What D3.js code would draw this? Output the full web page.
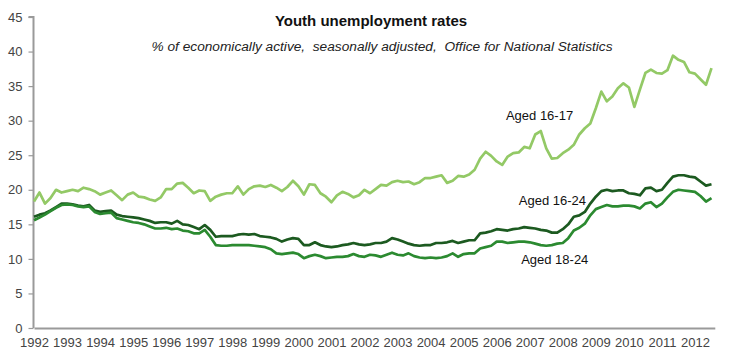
<!DOCTYPE html>
<html><head><meta charset="utf-8">
<script src="https://cdn.jsdelivr.net/npm/d3@7"></script>
<style>
html,body{margin:0;padding:0;background:#fff;}
svg{display:block;font-family:"Liberation Sans",Arial,sans-serif;}
</style></head>
<body>
<svg id="chart" width="729" height="360"></svg>
<script>
// Data: bi-monthly readings starting Jan 1992
const startYear = 1992;
const monthsPerStep = 2;
const yearTicks = d3.range(1992, 2013);
const yTicks = [0,5,10,15,20,25,30,35,40,45];

const aged1617 = [18.3,19.6,18.0,18.8,20.0,19.6,19.8,20.0,19.8,20.3,20.1,19.8,19.3,19.6,19.9,19.2,18.5,19.3,19.6,19.0,
18.9,18.6,18.4,18.9,20.1,20.1,20.9,21.0,20.3,19.5,19.9,19.8,18.4,19.0,19.3,19.5,19.5,20.5,19.3,20.1,
20.5,20.6,20.4,20.7,20.3,19.8,20.4,21.3,20.5,19.3,20.8,20.7,19.5,19.0,18.2,19.2,19.7,19.4,18.9,19.2,
20.0,19.5,20.1,20.7,20.6,21.1,21.3,21.1,21.2,20.8,21.1,21.7,21.7,21.9,22.1,21.0,21.3,22.0,21.9,22.2,
22.9,24.5,25.5,24.9,24.1,23.6,24.8,25.3,25.4,26.2,26.0,28.0,28.5,26.0,24.5,24.6,25.3,25.8,26.5,28.0,
28.9,29.6,31.8,34.2,32.8,33.5,34.7,35.4,34.8,32.0,34.5,36.9,37.4,36.9,36.8,37.3,39.4,38.8,38.5,37.0,
36.8,36.0,35.2,37.6];

const aged1624 = [16.1,16.4,16.6,17.0,17.5,18.0,18.0,17.9,17.7,17.6,17.8,17.0,16.8,16.9,17.0,16.4,16.2,16.1,16.0,15.9,
15.7,15.5,15.2,15.3,15.3,15.1,15.5,15.0,14.9,14.6,14.3,14.9,14.2,13.2,13.3,13.3,13.3,13.5,13.6,13.5,
13.6,13.3,13.2,13.1,12.9,12.5,12.8,13.0,12.9,12.0,12.0,12.4,12.0,11.8,11.7,11.8,12.0,12.1,12.3,12.1,
12.0,12.1,12.3,12.3,12.5,13.0,12.8,12.5,12.2,12.0,11.9,12.0,12.0,12.3,12.3,12.4,12.6,12.3,12.5,12.7,
12.7,13.7,13.8,14.0,14.3,14.2,14.1,14.3,14.4,14.6,14.5,14.4,14.2,14.1,13.8,13.8,14.3,15.0,16.1,16.3,
16.8,18.0,19.0,19.8,20.0,19.8,19.9,19.9,19.5,19.4,19.2,20.2,20.3,19.8,20.0,21.0,21.9,22.1,22.1,21.9,
21.8,21.2,20.6,20.8];

const aged1824 = [15.6,16.0,16.4,16.9,17.4,17.8,17.9,17.8,17.6,17.5,17.6,16.8,16.5,16.6,16.7,15.9,15.7,15.5,15.3,15.2,
15.0,14.7,14.4,14.4,14.5,14.3,14.4,14.1,14.0,13.7,13.7,14.2,13.2,12.0,11.9,11.9,12.0,12.0,12.0,12.0,
11.9,11.8,11.7,11.4,10.8,10.7,10.8,10.9,10.7,10.1,10.4,10.6,10.4,10.1,10.2,10.3,10.3,10.4,10.7,10.4,
10.3,10.6,10.5,10.3,10.6,10.9,10.6,10.5,10.8,10.4,10.2,10.1,10.2,10.1,10.2,10.4,10.8,10.3,10.7,10.8,
10.8,11.5,11.7,11.9,12.5,12.5,12.3,12.4,12.5,12.5,12.4,12.2,12.0,11.9,12.0,12.2,12.3,13.0,14.1,14.5,
15.1,16.3,17.2,17.5,17.8,17.6,17.6,17.7,17.7,17.6,17.3,18.0,18.2,17.5,18.0,18.9,19.7,20.0,19.9,19.8,
19.7,19.1,18.3,18.8];

const seriesNames = ["Aged 16-17","Aged 16-24","Aged 18-24"];
const seriesValues = [aged1617, aged1624, aged1824];
const seriesColors = ["#93c966","#1c5a20","#2b8a30"];
const labelPos = [[2006.28, 30.1],[2006.67, 17.8],[2006.74, 9.26]]; // label anchors in data units

const svg = d3.select("#chart");
const x = d3.scaleLinear().domain([1992, 2012.6]).range([34, 714.8]);
const y = d3.scaleLinear().domain([0, 45]).range([328, 17]);

// title
svg.append("text").attr("x", 371).attr("y", 26).attr("text-anchor","middle")
  .attr("font-size", 15).attr("font-weight","bold").attr("fill","#111")
  .text("Youth unemployment rates");
svg.append("text").attr("x", 382).attr("y", 51).attr("text-anchor","middle")
  .attr("font-size", 13.7).attr("font-style","italic").attr("fill","#222")
  .attr("xml:space","preserve")
  .text("% of economically active,  seasonally adjusted,  Office for National Statistics");

// y axis
const yAxis = d3.axisLeft(y).tickValues(yTicks).tickSize(5).tickPadding(6).tickFormat(d3.format("d"));
const gy = svg.append("g").attr("transform","translate(33.5,0)").call(yAxis);
gy.select(".domain").attr("stroke","#9a9a9a").attr("stroke-width",2).attr("d", `M-5,${y(45)}H0V${y(0)}`);
gy.selectAll(".tick line").attr("stroke","#9a9a9a").attr("stroke-width",1.2);
gy.selectAll(".tick text").attr("font-size",13).attr("fill","#444").attr("font-family","Liberation Sans, Arial, sans-serif");

// x axis
const xAxis = d3.axisBottom(x).tickValues(yearTicks).tickSize(0).tickPadding(10).tickFormat(d3.format("d"));
const gx = svg.append("g").attr("transform",`translate(0,${y(0)})`).call(xAxis);
gx.select(".domain").attr("stroke","#9a9a9a").attr("stroke-width",2);
gx.selectAll(".tick text").attr("font-size",13).attr("fill","#444").attr("font-family","Liberation Sans, Arial, sans-serif");

// lines
const line = d3.line()
  .x((d,i) => x(startYear + i*monthsPerStep/12))
  .y(d => y(d))
  .curve(d3.curveLinear);

seriesValues.forEach((vals, k) => {
  svg.append("path").datum(vals)
    .attr("fill","none").attr("stroke", seriesColors[k]).attr("stroke-width", 2.7)
    .attr("stroke-linejoin","round").attr("d", line);
});

// labels
seriesNames.forEach((name, k) => {
  svg.append("text").attr("x", x(labelPos[k][0])).attr("y", y(labelPos[k][1]))
    .attr("font-size", 13).attr("fill","#111").text(name);
});
</script>
</body></html>
